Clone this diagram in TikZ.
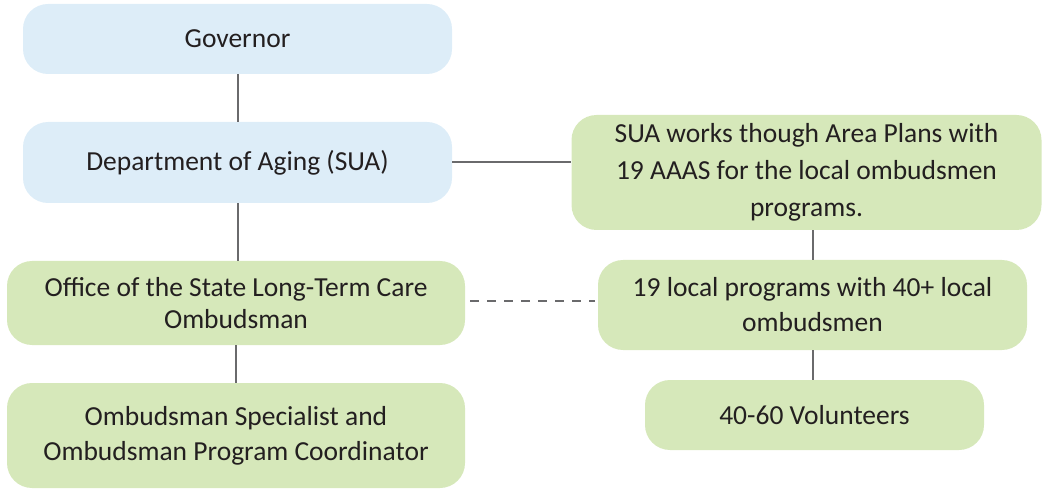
\documentclass[tikz,border=0pt]{standalone}
\usepackage{fontspec}
\setmainfont{Carlito}
\definecolor{boxblue}{HTML}{DDEDF8}
\definecolor{boxgreen}{HTML}{D6E8BA}
\definecolor{linegray}{HTML}{6A6A6C}
\definecolor{txt}{HTML}{231F20}
\begin{document}
\begin{tikzpicture}[x=1pt,y=-1pt,
  box/.style={rounded corners=25pt, align=center, inner sep=2pt, text=txt,
    font=\fontsize{27.5}{35}\selectfont},
  bluebox/.style={box, fill=boxblue},
  greenbox/.style={box, fill=boxgreen},
  conn/.style={draw=linegray, line width=2pt},
  dconn/.style={conn, dash pattern=on 9pt off 8pt}]
\useasboundingbox (0,0) rectangle (1042,489);
\node[bluebox, minimum width=429pt, minimum height=70pt] (gov) at (237.5,39) {Governor};
\node[bluebox, minimum width=429pt, minimum height=81pt] (dept) at (237.5,162.5) {Department of Aging (SUA)};
\node[greenbox, minimum width=458pt, minimum height=84pt, font=\fontsize{27.5}{32}\selectfont] (office) at (236,303) {Office of the State Long-Term Care\\Ombudsman};
\node[greenbox, minimum width=458pt, minimum height=105pt] (spec) at (236,435.5) {Ombudsman Specialist and\\Ombudsman Program Coordinator};
\node[greenbox, minimum width=470pt, minimum height=115pt, font=\fontsize{27.5}{37}\selectfont] (sua) at (806.5,172.5) {SUA works though Area Plans with\\19 AAAS for the local ombudsmen\\programs.};
\node[greenbox, minimum width=429pt, minimum height=90pt] (local) at (812.5,305) {19 local programs with 40+ local\\ombudsmen};
\node[greenbox, minimum width=339pt, minimum height=70pt] (vol) at (814.5,415) {40-60 Volunteers};
\draw[conn] (gov.south) -- (dept.north);
\draw[conn] (dept.south) -- (dept.south |- office.north);
\draw[conn] (office.south) -- (spec.north);
\draw[conn] (dept.east) -- (dept.east -| sua.west);
\draw[conn] (local.north) -- (local.north |- sua.south);
\draw[conn] (local.south) -- (local.south |- vol.north);
\draw[dconn, shorten <=5pt, shorten >=3pt] (office.east |- 0,301) -- (local.west |- 0,301);
\end{tikzpicture}
\end{document}
